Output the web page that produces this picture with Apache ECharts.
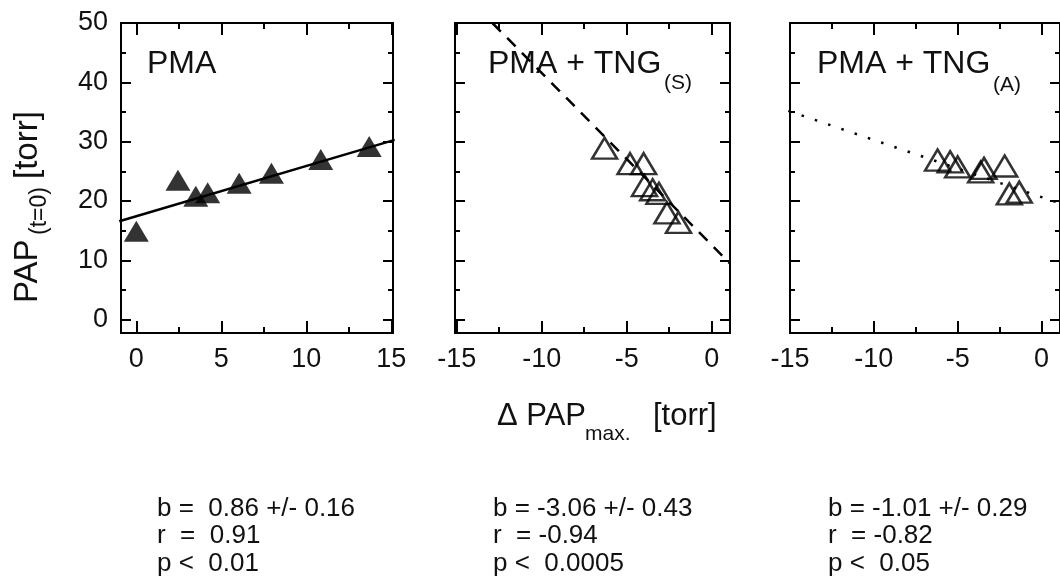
<!DOCTYPE html>
<html>
<head>
<meta charset="utf-8">
<script src="https://cdn.jsdelivr.net/npm/echarts@6/dist/echarts.min.js"></script>
<style>
  html, body { margin: 0; padding: 0; background: #fff; }
  #chart { width: 1060px; height: 581px; }
</style>
</head>
<body>
<div id="chart"></div>
<script>
// values
const pmaX = [0.0, 2.45, 3.5, 4.2, 6.05, 7.95, 10.85, 13.7];
const pmaY = [14.9, 23.5, 20.8, 21.4, 23.0, 24.7, 27.0, 29.2];
const pmaFitX = [-1, 15.2];
const pmaFitY = [16.6, 30.3];

const tngsX = [-6.3, -4.8, -4.0, -3.95, -3.47, -3.1, -2.63, -1.95];
const tngsY = [28.9, 26.3, 26.3, 22.6, 21.9, 21.3, 18.0, 16.4];
const tngsFitX = [-12.9, 1.1];
const tngsFitY = [50, 9.4];

const tngaX = [-6.2, -5.45, -5.0, -3.63, -3.43, -2.2, -1.92, -1.33];
const tngaY = [26.9, 26.6, 25.75, 24.9, 25.5, 25.9, 21.2, 21.5];
const tngaFitX = [-15.1, 1.1];
const tngaFitY = [35.2, 19.6];

const xMajorPos = [0, 5, 10, 15];
const xMinorPos = [2.5, 7.5, 12.5];
const xMajorNeg = [-15, -10, -5, 0];
const xMinorNeg = [-12.5, -7.5, -2.5];
const yMajor = [0, 10, 20, 30, 40, 50];
const yMinor = [5, 15, 25, 35, 45];

const stats = [
  ["b =  0.86 +/- 0.16", "r  =  0.91", "p <  0.01"],
  ["b = -3.06 +/- 0.43", "r  = -0.94", "p <  0.0005"],
  ["b = -1.01 +/- 0.29", "r  = -0.82", "p <  0.05"]
];

const font = "Liberation Sans, Arial, sans-serif";
const chart = echarts.init(document.getElementById("chart"));

const panels = [
  { left: 121, width: 272, min: -0.9, max: 15.1, major: xMajorPos, minor: xMinorPos, yLabels: true },
  { left: 455, width: 275, min: -15.1, max: 1.08, major: xMajorNeg, minor: xMinorNeg, yLabels: false },
  { left: 790, width: 274, min: -15, max: 1.1, major: xMajorNeg, minor: xMinorNeg, yLabels: false }
];

const grids = [], xAxes = [], yAxes = [];
panels.forEach((p, i) => {
  grids.push({
    left: p.left, top: 23, width: p.width, height: 310,
    show: true, borderColor: "#000", borderWidth: 2, backgroundColor: "transparent"
  });
  const xa = (pos, vals, len, labels) => ({
    type: "value", gridIndex: i, position: pos, min: p.min, max: p.max,
    axisLine: { show: false, onZero: false }, splitLine: { show: false },
    axisTick: { show: true, inside: true, length: len, customValues: vals,
      lineStyle: { color: "#000", width: 2 } },
    axisLabel: labels
      ? { show: true, customValues: vals, margin: 13, fontSize: 27, color: "#111", fontFamily: font }
      : { show: false }
  });
  xAxes.push(xa("bottom", p.major, 12, true), xa("bottom", p.minor, 6, false),
    xa("top", p.major, 12, false), xa("top", p.minor, 6, false));
  const ya = (pos, vals, len, labels) => ({
    type: "value", gridIndex: i, position: pos, min: -2.24, max: 50,
    axisLine: { show: false, onZero: false }, splitLine: { show: false },
    axisTick: { show: true, inside: true, length: len, customValues: vals,
      lineStyle: { color: "#000", width: 2 } },
    axisLabel: labels
      ? { show: true, customValues: vals, margin: 13, fontSize: 27, color: "#111", fontFamily: font }
      : { show: false }
  });
  yAxes.push(ya("left", yMajor, 10, p.yLabels), ya("left", yMinor, 5, false),
    ya("right", yMajor, 10, false), ya("right", yMinor, 5, false));
});

const zip = (a, b) => a.map((v, k) => [v, b[k]]);

const fitSeries = (i, xs, ys, type) => ({
  type: "line", xAxisIndex: i * 4, yAxisIndex: i * 4, data: zip(xs, ys),
  showSymbol: false, silent: true, clip: true, z: 2,
  lineStyle: { color: "#000", width: 2.5, type: type, cap: "butt" }
});
const pointSeries = (i, xs, ys, filled) => ({
  type: "scatter", xAxisIndex: i * 4, yAxisIndex: i * 4, data: zip(xs, ys),
  symbol: "triangle", symbolSize: [25, 21], z: 3,
  itemStyle: filled
    ? { color: "#000" }
    : { color: "rgba(0,0,0,0)", borderColor: "#000", borderWidth: 2.5 }
});

const txt = (x, y, text, size, extra) => ({
  type: "text", x: x, y: y,
  style: Object.assign({ text: text, fontSize: size, fontFamily: font, fill: "#111",
    textVerticalAlign: "middle" }, extra || {})
});

const graphics = [
  txt(147, 64, "PMA", 32),
  txt(488, 64, "PMA + TNG", 32),
  txt(664, 83, "(S)", 21),
  txt(817, 64, "PMA + TNG", 32),
  txt(993, 85, "(A)", 21),
  // x title
  txt(497, 416, "\u0394 PAP", 31),
  txt(585, 434, "max.", 21),
  txt(653, 416, "[torr]", 31),
  // y title, rotated
  {
    type: "group", x: 28, y: 303, rotation: Math.PI / 2,
    children: [
      txt(0, 0, "PAP", 33),
      txt(68, 12, "(t=0)", 23),
      txt(124, 0, "[torr]", 33)
    ]
  }
];
[157, 493, 828].forEach((x, i) => {
  graphics.push(txt(x, 495, stats[i].join("\n"),
    26, { textVerticalAlign: "top", lineHeight: 27.5 }));
});

chart.setOption({
  animation: false,
  backgroundColor: "#fff",
  grid: grids,
  xAxis: xAxes,
  yAxis: yAxes,
  series: [
    fitSeries(0, pmaFitX, pmaFitY, "solid"),
    pointSeries(0, pmaX, pmaY, true),
    fitSeries(1, tngsFitX, tngsFitY, [12, 9]),
    pointSeries(1, tngsX, tngsY, false),
    fitSeries(2, tngaFitX, tngaFitY, [2.5, 11.5]),
    pointSeries(2, tngaX, tngaY, false)
  ],
  graphic: graphics
});
</script>
</body>
</html>
